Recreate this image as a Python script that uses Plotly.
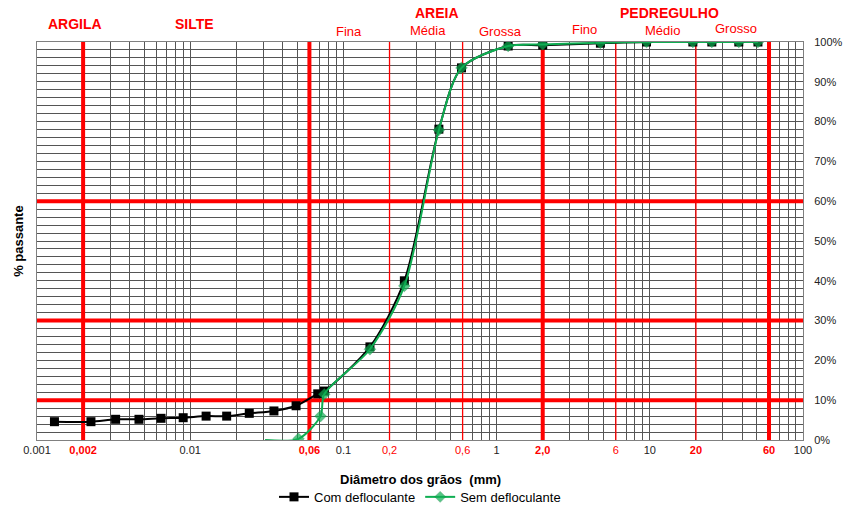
import plotly.graph_objects as go

# ---------------- data ----------------
com_x = [0.0013, 0.00225, 0.00326, 0.00463, 0.00645, 0.0090, 0.0127, 0.0173, 0.0243,
         0.0352, 0.0491, 0.068, 0.075, 0.149, 0.25, 0.42, 0.59, 1.19, 2.0, 4.76,
         9.52, 19.1, 25.4, 38.1, 50.8]
com_y = [4.6, 4.6, 5.2, 5.2, 5.45, 5.6, 6.0, 6.0, 6.7, 7.3, 8.6, 11.6, 12.3, 23.4,
         40.0, 78.1, 93.5, 99.0, 99.2, 99.7, 100, 100, 100, 100, 100]

sem_x = [0.0308, 0.0509, 0.0709, 0.075, 0.149, 0.25, 0.42, 0.59, 1.19, 2.0, 4.76,
         9.52, 19.1, 25.4, 38.1, 50.8]
sem_y = [0, 0.3, 6.0, 11.5, 22.8, 38.7, 77.9, 93.5, 99.0, 99.4, 99.8, 100, 100, 100,
         100, 100]

# boundaries (mm) and horizontal reference percentages
main_bounds = [0.002, 0.06, 2.0, 60]
sub_bounds = [0.2, 0.6, 6, 20]
pct_lines = [10, 30, 60]

# axis ranges
x_min, x_max = 0.001, 100
y_min, y_max = 0, 100

# x tick labels
black_ticks = {0.001: "0.001", 0.01: "0.01", 0.1: "0.1", 1: "1", 10: "10", 100: "100"}
red_bold_ticks = {0.002: "0,002", 0.06: "0,06", 2: "2,0", 20: "20", 60: "60"}
red_ticks = {0.2: "0,2", 0.6: "0,6", 6: "6"}

y_ticks = [0, 10, 20, 30, 40, 50, 60, 70, 80, 90, 100]
y_ticktext = [f"{v}%" for v in y_ticks]

# class labels (text, paper x, paper y, bold)
class_labels = [
    ("ARGILA", 0.049, 1.045, True),
    ("SILTE", 0.206, 1.045, True),
    ("AREIA", 0.522, 1.073, True),
    ("PEDREGULHO", 0.826, 1.073, True),
    ("Fina", 0.407, 1.027, False),
    ("Média", 0.510, 1.030, False),
    ("Grossa", 0.605, 1.027, False),
    ("Fino", 0.715, 1.032, False),
    ("Médio", 0.816, 1.030, False),
    ("Grosso", 0.912, 1.035, False),
]

FONT = "Arial, 'Liberation Sans', sans-serif"
RED = "#ff0000"
GRID = "#555555"

# build tick arrays
tickvals, ticktext = [], []
for e in range(-3, 3):
    for m in range(1, 10):
        if e == 2 and m > 1:
            break
        v = round(m * 10 ** e, 6)
        tickvals.append(v)
        label = ""
        for k, t in black_ticks.items():
            if abs(k - v) / v < 1e-6:
                label = t
        for k, t in red_bold_ticks.items():
            if abs(k - v) / v < 1e-6:
                label = f"<span style='color:{RED}'><b>{t}</b></span>"
        for k, t in red_ticks.items():
            if abs(k - v) / v < 1e-6:
                label = f"<span style='color:{RED}'>{t}</span>"
        ticktext.append(label)

fig = go.Figure()

# red classification lines (drawn first, below the data)
for b in main_bounds:
    fig.add_trace(go.Scatter(x=[b, b], y=[y_min, y_max], mode="lines",
                             line=dict(color=RED, width=4), showlegend=False,
                             hoverinfo="skip", cliponaxis=False))
for b in sub_bounds:
    fig.add_trace(go.Scatter(x=[b, b], y=[y_min, y_max], mode="lines",
                             line=dict(color=RED, width=1.3), showlegend=False,
                             hoverinfo="skip", cliponaxis=False))
for p in pct_lines:
    fig.add_trace(go.Scatter(x=[x_min, x_max], y=[p, p], mode="lines",
                             line=dict(color=RED, width=4), showlegend=False,
                             hoverinfo="skip", cliponaxis=False))

fig.add_trace(go.Scatter(
    x=com_x, y=com_y, mode="lines+markers", name="Com defloculante",
    line=dict(color="black", width=2, shape="spline", smoothing=0.8),
    marker=dict(symbol="square", size=9, color="black"),
))
fig.add_trace(go.Scatter(
    x=sem_x, y=sem_y, mode="lines+markers", name="Sem defloculante",
    line=dict(color="#0fae52", width=2, shape="spline", smoothing=0.8),
    marker=dict(symbol="diamond", size=[0] + [9] * (len(sem_x) - 1), color="#0fae52",
                line=dict(color="#0a7a38", width=0.5)),
))

annotations = []
for txt, px, py, bold in class_labels:
    annotations.append(dict(
        text=f"<b>{txt}</b>" if bold else txt, x=px, y=py, xref="paper", yref="paper",
        showarrow=False, xanchor="center", yanchor="middle",
        font=dict(family=FONT, size=14 if bold else 13, color=RED)))
annotations.append(dict(text="<b>Diâmetro dos grãos  (mm)</b>", x=0.5, y=-0.098,
                        xref="paper", yref="paper", showarrow=False,
                        xanchor="center", yanchor="middle",
                        font=dict(family=FONT, size=13, color="black")))
annotations.append(dict(text="<b>% passante</b>", x=-0.025, y=0.5, xref="paper",
                        yref="paper", showarrow=False, textangle=-90,
                        xanchor="center", yanchor="middle",
                        font=dict(family=FONT, size=13, color="black")))

fig.update_layout(
    width=845, height=512,
    margin=dict(l=37, r=42, t=42, b=72, autoexpand=False),
    paper_bgcolor="white", plot_bgcolor="white",
    font=dict(family=FONT, size=11, color="black"),
    annotations=annotations,
    showlegend=True,
    legend=dict(orientation="h", x=0.5, xanchor="center", y=-0.143, yanchor="middle",
                font=dict(family=FONT, size=13, color="black"), itemwidth=30),
    xaxis=dict(type="log", range=[-3, 2], tickmode="array", tickvals=tickvals,
               ticktext=ticktext, showgrid=True, gridcolor=GRID, gridwidth=1,
               showline=True, linecolor="#808080", mirror=True, zeroline=False,
               ticks="", tickfont=dict(family=FONT, size=11, color="#222")),
    yaxis=dict(range=[y_min, y_max], side="right", tickmode="array", tickvals=y_ticks,
               ticktext=y_ticktext,
               showgrid=True, gridcolor=GRID, gridwidth=1,
               minor=dict(dtick=2, showgrid=True, gridcolor=GRID, gridwidth=1),
               showline=True, linecolor="#808080", mirror=True, zeroline=False,
               ticks="", ticklabelstandoff=8,
               tickfont=dict(family=FONT, size=11, color="#222")),
)

fig.write_html("out.html", config={"displayModeBar": False},
               post_script="document.body.style.margin='0';document.body.style.overflow='hidden';")
